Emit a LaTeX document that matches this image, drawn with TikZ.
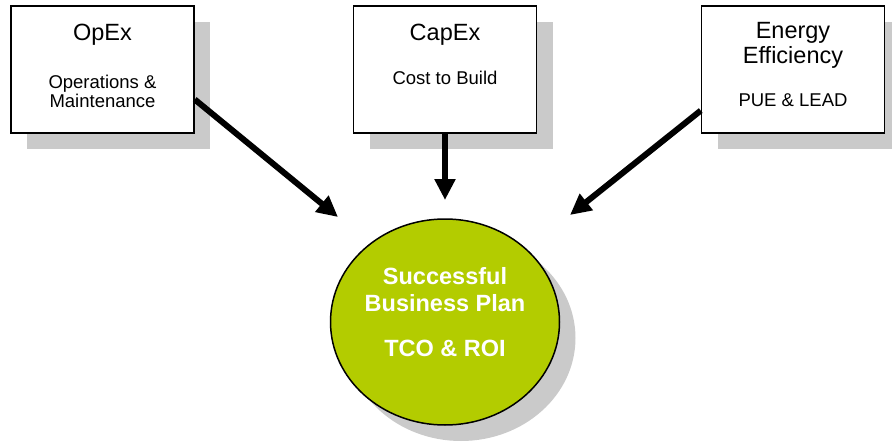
\documentclass[tikz,border=0pt]{standalone}
\usepackage{fontspec}
\setmainfont{Liberation Sans}
\usetikzlibrary{positioning,shapes.geometric,shadows,arrows.meta}

\definecolor{planGreen}{RGB}{179,204,0}
\definecolor{shadowGray}{RGB}{202,202,202}

\begin{document}
\begin{tikzpicture}[
  cost box/.style={rectangle, draw, line width=1.5pt, fill=white,
    minimum width=183pt, minimum height=127pt, inner sep=0pt,
    drop shadow={shadow xshift=16pt, shadow yshift=-16pt, fill=shadowGray, opacity=1}},
  plan node/.style={ellipse, draw, line width=1.5pt, fill=planGreen,
    minimum width=229pt, minimum height=206pt, inner sep=0pt,
    drop shadow={shadow xshift=16pt, shadow yshift=-16pt, fill=shadowGray, opacity=1}},
  title text/.style={anchor=base, align=center, font=\fontsize{23.5}{25}\selectfont},
  sub text/.style={anchor=base, align=center, font=\fontsize{18.5}{17}\selectfont},
  plan text/.style={anchor=base, align=center, text=white, font=\bfseries\fontsize{23.5}{27.5}\selectfont},
  flow/.style={line width=6pt, -{Triangle[length=21pt,width=20pt]}}]

  \useasboundingbox (0,0) rectangle (892pt,-442pt);

  % the three cost boxes
  \node [cost box] (opex) at (102.5pt,-69.5pt) {};
  \node [cost box] (capex) at (445pt,-69.5pt) {};
  \node [cost box] (energy) at (793pt,-69.5pt) {};

  % texts (base = last line)
  \node [title text] (opex title) at (102.5pt,-40pt) {OpEx};
  \node [sub text] (opex sub) at (102.5pt,-107pt) {Operations \&\\Maintenance};
  \node [title text] (capex title) at (445pt,-40pt) {CapEx};
  \node [sub text] (capex sub) at (445pt,-84pt) {Cost to Build};
  \node [title text] (energy title) at (793pt,-63pt) {Energy\\Efficiency};
  \node [sub text] (energy sub) at (793pt,-106pt) {PUE \& LEAD};

  % the business plan
  \node [plan node] (plan) at (445pt,-322pt) {};
  \node [plan text] (plan title) at (445pt,-356pt) {Successful\\Business Plan\\[17pt]TCO \& ROI};

  % arrows
  \coordinate (opex tip) at (338pt,-217pt);
  \coordinate (capex tip) at (445pt,-200pt);
  \coordinate (energy tip) at (570pt,-215pt);

  \draw [flow] (opex.-18.4) -- (opex tip);
  \draw [flow] (capex.south) -- (capex tip);
  \draw [flow] (energy.204) -- (energy tip);
\end{tikzpicture}
\end{document}
